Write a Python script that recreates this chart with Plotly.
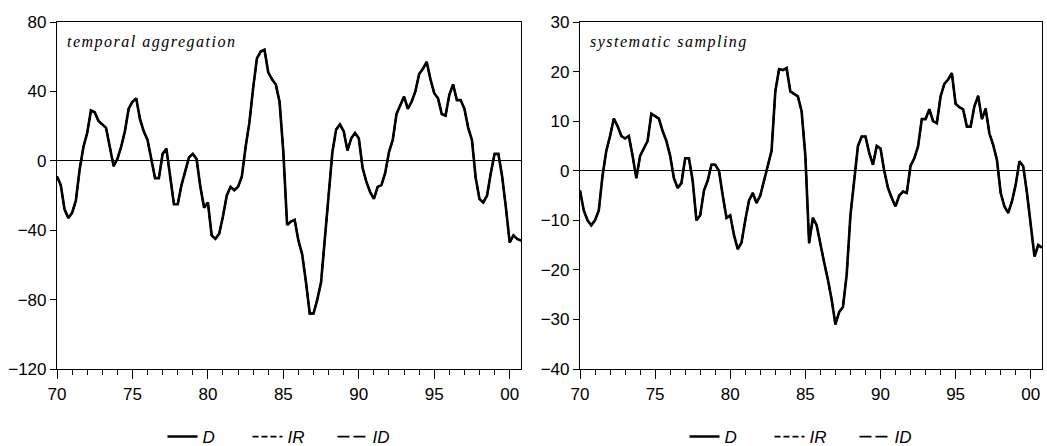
import plotly.graph_objects as go

# quarterly observations 1970Q1 .. 2000Q4 (x in two-digit year units)
quarters = [70 + i * 0.25 for i in range(124)]

# temporal aggregation panel
d_temporal = [-9, -14, -28, -33,
              -30, -23, -5, 8,
              16, 29, 28, 23,
              21, 19, 8, -3,
              1, 8, 17, 30,
              34, 36, 24, 17,
              12, 0, -10, -10,
              4, 7, -8, -25,
              -25, -14, -6, 2,
              4, 1, -15, -27,
              -24, -43, -45, -42,
              -32, -20, -15, -17,
              -15, -9, 8, 22,
              42, 59, 63, 64,
              51, 47, 44, 34,
              5, -37, -35, -34,
              -46, -54, -70, -88,
              -88, -80, -70, -47,
              -20, 5, 18, 21,
              17, 6, 13, 16,
              13, -4, -12, -18,
              -22, -15, -14, -7,
              5, 12, 27, 32,
              37, 30, 34, 40,
              50, 53, 57, 47,
              39, 36, 27, 26,
              38, 44, 35, 35,
              30, 19, 12, -10,
              -22, -24, -20, -7,
              4, 4, -9, -27,
              -47, -43, -45, -46]
# IR and ID coincide with D at the resolution of the picture
ir_temporal = list(d_temporal)
id_temporal = list(d_temporal)

# systematic sampling panel
d_sampling = [-4, -8, -10, -11,
              -10, -8, -1, 4,
              7, 10.5, 9, 7,
              6.5, 7, 3, -1.5,
              3, 4.5, 6, 11.5,
              11, 10.5, 8, 6,
              3, -1.5, -3.5, -2.5,
              2.5, 2.5, -2, -10,
              -9, -4, -2, 1.2,
              1.2, 0, -5, -9.5,
              -9, -13, -15.8, -14.5,
              -10, -6, -4.5, -6.5,
              -5, -2, 1, 4,
              16, 20.5, 20.3, 20.7,
              16, 15.5, 15, 12,
              3, -14.6, -9.5, -11,
              -15, -18.5, -22, -26,
              -31, -28.5, -27.5, -21,
              -9, -2, 5, 6.9,
              6.9, 3.6, 1.2, 5,
              4.5, 0, -3.5, -5.5,
              -7.2, -5, -4.2, -4.5,
              1, 2.5, 4.9, 10.4,
              10.4, 12.4, 10, 9.6,
              15, 17.5, 18.4, 19.7,
              13.5, 12.8, 12.4, 8.9,
              8.9, 13, 15.1, 10.4,
              12.5, 7.5, 5.2, 2.2,
              -4.5, -7.2, -8.5, -6.2,
              -2.8, 1.9, 0.9, -4.5,
              -11.2, -17.3, -15, -15.5]
ir_sampling = list(d_sampling)
id_sampling = list(d_sampling)

x_tickvals = [70, 75, 80, 85, 90, 95, 100]
x_ticktext = ["70", "75", "80", "85", "90", "95", "00"]
y1_tickvals = [-120, -80, -40, 0, 40, 80]
y2_tickvals = [-40, -30, -20, -10, 0, 10, 20, 30]
series_names = ["D", "IR", "ID"]
panel_titles = ["temporal aggregation", "systematic sampling"]

styles = [dict(dash="solid", width=2.6),
          dict(dash="6px,3px", width=1.8),
          dict(dash="12px,4px", width=1.8)]

fig = go.Figure()
panels = [
    ("x", "y", "legend", [d_temporal, ir_temporal, id_temporal]),
    ("x2", "y2", "legend2", [d_sampling, ir_sampling, id_sampling]),
]
for xa, ya, lg, series in panels:
    for name, vals, st in zip(series_names, series, styles):
        fig.add_trace(go.Scatter(
            x=quarters, y=vals, mode="lines", name=name,
            xaxis=xa, yaxis=ya, legend=lg,
            line=dict(color="black", width=st["width"], dash=st["dash"]),
        ))

tickfont = dict(family="Liberation Sans, Arial, sans-serif", size=17, color="black")
common_x = dict(range=[70, 100.75], showgrid=False, zeroline=False,
                showline=True, linecolor="black", linewidth=1.2, mirror=True,
                ticks="outside", ticklen=9, tickwidth=1.2, tickcolor="black",
                tickvals=x_tickvals, ticktext=x_ticktext, tickfont=tickfont,
                minor=dict(dtick=1, tick0=70, ticks="outside", ticklen=5,
                           tickwidth=1.2, tickcolor="black", showgrid=False))
common_y = dict(showgrid=False, zeroline=True, zerolinecolor="black", zerolinewidth=1.2,
                showline=True, linecolor="black", linewidth=1.2, mirror=True,
                ticks="outside", ticklen=6, tickwidth=1.2, tickcolor="black",
                tickfont=tickfont)

W, H = 1047, 446
ml, mr, mt, mb = 57, 5, 22, 77
pw = W - ml - mr
left_end = (521 - ml) / pw
right_start = (580 - ml) / pw

legend_font = dict(family="Liberation Sans, Arial, sans-serif", size=17, color="black", style="italic")
legend_y = 1 - 437 / H
fig.update_layout(
    width=W, height=H,
    margin=dict(l=ml, r=mr, t=mt, b=mb, autoexpand=False),
    paper_bgcolor="white", plot_bgcolor="white",
    xaxis=dict(domain=[0, left_end], anchor="y", automargin=False, **common_x),
    yaxis=dict(domain=[0, 1], anchor="x", automargin=False, range=[-120, 80],
               tickvals=y1_tickvals, **common_y),
    xaxis2=dict(domain=[right_start, 1], anchor="y2", automargin=False, **common_x),
    yaxis2=dict(domain=[0, 1], anchor="x2", automargin=False, range=[-40, 30],
                tickvals=y2_tickvals, **common_y),
    legend=dict(orientation="h", x=(290 - ml) / pw, xanchor="center",
                yref="container", y=legend_y, yanchor="middle", font=legend_font,
                bgcolor="rgba(0,0,0,0)", itemwidth=30, tracegroupgap=0,
                entrywidth=40),
    legend2=dict(orientation="h", x=(812 - ml) / pw, xanchor="center",
                 yref="container", y=legend_y, yanchor="middle", font=legend_font,
                 bgcolor="rgba(0,0,0,0)", itemwidth=30, tracegroupgap=0,
                 entrywidth=40),
    showlegend=True,
)

title_font = dict(family="Liberation Serif, Times New Roman, serif", size=16, color="black", style="italic")
for ref, title in zip(["x", "x2"], panel_titles):
    fig.add_annotation(
        text='<span style="letter-spacing:1.5px">' + title + '</span>',
        xref=ref + " domain", yref="y domain" if ref == "x" else "y2 domain",
        x=0.018, y=(369 - 42) / 347, xanchor="left", yanchor="middle",
        showarrow=False, font=title_font,
    )

fig.write_html("out.html")
